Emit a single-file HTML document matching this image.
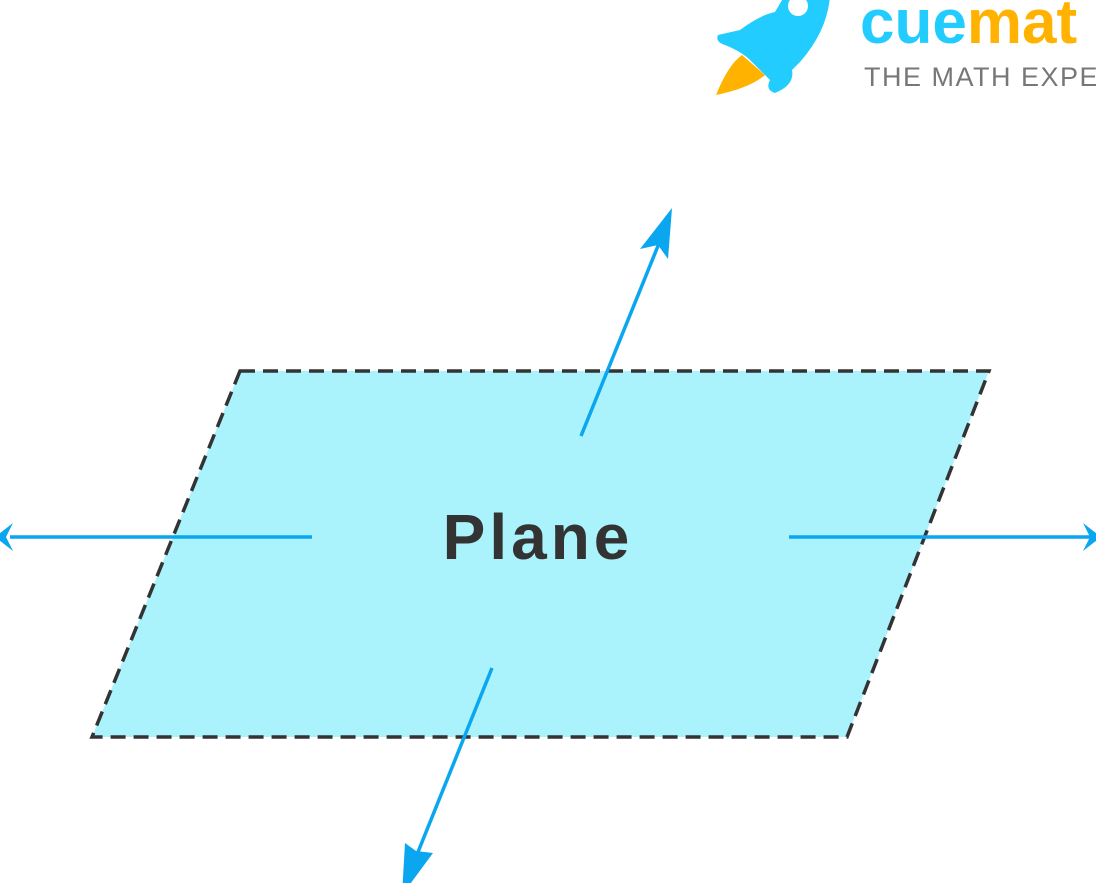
<!DOCTYPE html>
<html><head><style>
html,body{margin:0;padding:0;background:#fff;width:1096px;height:883px;overflow:hidden}
</style></head><body>
<svg width="1096" height="883" viewBox="0 0 1096 883" xmlns="http://www.w3.org/2000/svg">
<polygon points="240,371 989,371 847,737 92,737" fill="#aaf3fc" stroke="#333" stroke-width="3.5" stroke-dasharray="15,8"/>
<text x="538" y="559" text-anchor="middle" font-family="Liberation Sans, sans-serif" font-size="64" font-weight="bold" fill="#333" letter-spacing="4">Plane</text>
<g stroke="#0aa6ef" stroke-width="3.5" fill="#0aa6ef">
<line x1="581" y1="436" x2="662" y2="236"/>
<line x1="312" y1="537" x2="10" y2="537"/>
<line x1="789" y1="537" x2="1090" y2="537"/>
<line x1="492" y1="668" x2="414" y2="862"/>
</g>
<g fill="#0aa6ef">
<polygon points="672,208 668,259 658,245 640,249"/>
<polygon points="-5,537 13,523 6,537 13,551"/>
<polygon points="1101,537 1083,523 1090,537 1083,551"/>
<polygon points="402,895 405,843 416,851 433,853"/>
</g>
<g>
<path d="M740,30 Q760,15 775,12 L785,-5 L830,-5 Q828,30 800,62 L792,70 Q795,85 775,93 Q765,90 770,80 L760,70 L748,58 Q738,50 725,45 Q715,42 718,35 Z" fill="#22ccff"/>
<circle cx="798" cy="6" r="10" fill="#fff"/>
<path d="M742,55 L765,75 Q750,88 716,95 Q728,65 742,55 Z" fill="#ffb300"/>
</g>
<text x="860" y="43" font-family="Liberation Sans, sans-serif" font-size="62" font-weight="bold"><tspan fill="#22ccff">cue</tspan><tspan fill="#ffb300">mat</tspan></text>
<text x="864" y="86" font-family="Liberation Sans, sans-serif" font-size="27" fill="#777" letter-spacing="1.5">THE MATH EXPE</text>
</svg>
</body></html>
